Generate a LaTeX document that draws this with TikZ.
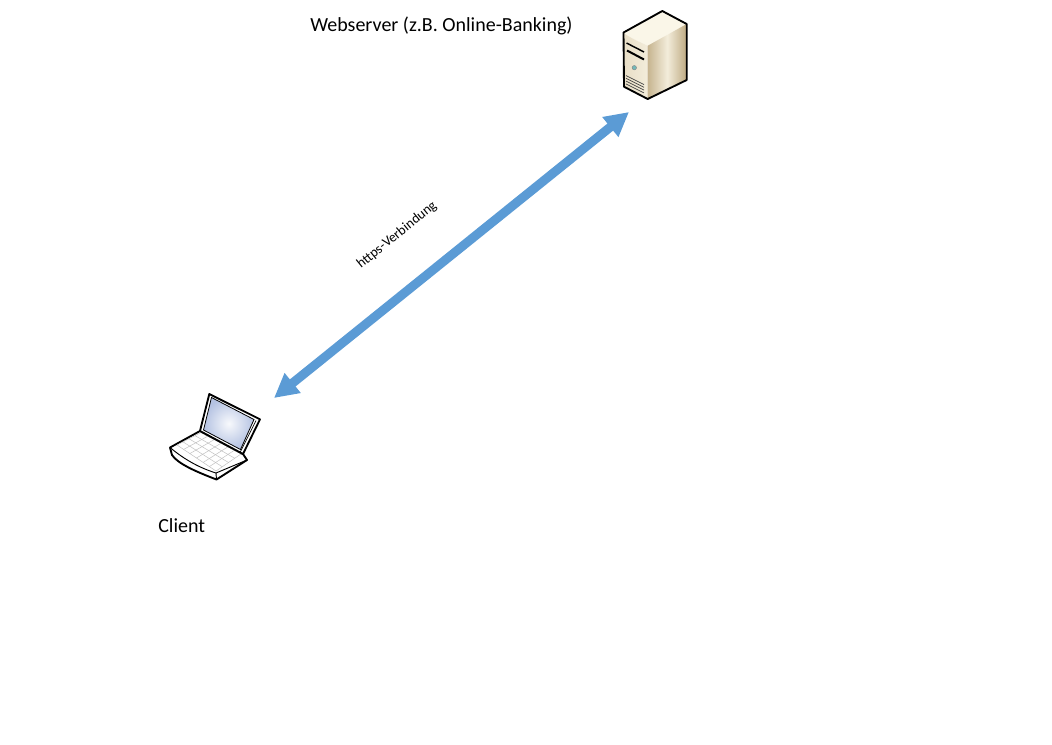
\documentclass[tikz,border=0pt]{standalone}
\usepackage{fontspec}
\setmainfont{Carlito}
\usepackage{xcolor}
\usepackage{tikz}
\usetikzlibrary{calc,arrows.meta}

\definecolor{linkblue}{RGB}{91,155,213}
\definecolor{caselight}{RGB}{250,246,232}
\definecolor{casemid}{RGB}{232,222,198}
\definecolor{casedark}{RGB}{190,170,130}
\definecolor{screenblue}{RGB}{180,194,226}

\tikzset{
    outline/.style={draw=black, line width=1.4pt, line join=round},
    label/.style={font=\fontsize{15pt}{18pt}\selectfont, anchor=west, inner sep=0pt},
    keyline/.style={draw=black!25, line width=.35pt},
    link/.style={draw=linkblue, line width=6.8pt, {Triangle[length=18pt,width=18pt]}-{Triangle[length=18pt,width=18pt]}}
}

\begin{document}
\begin{tikzpicture}[x=.75pt, y=-.75pt]
    \useasboundingbox (0,0) rectangle (1052,744);

    % server
    \coordinate (stl) at (623.5,32.5);
    \coordinate (stf) at (647.7,45.7);
    \coordinate (stb) at (662.3,11);
    \coordinate (str) at (686.7,24);
    \coordinate (sbl) at (624,86.7);
    \coordinate (sbf) at (647.7,99);
    \coordinate (sbr) at (686.7,80);
    \fill[caselight] (stl) .. controls (628,37) and (640,42) .. (stf) -- (str) -- (stb) -- cycle;
    \shade[left color=casemid, right color=caselight!60!casemid] (stl) .. controls (628,37) and (640,42) .. (stf) -- (sbf) -- (sbl) -- cycle;
    \shade[left color=casedark!80!casemid, right color=casedark, middle color=caselight!60!casemid] (stf) -- (str) -- (sbr) -- (sbf) -- cycle;
    \draw[black, line width=1.1pt] (626.5,43) -- (644,52);
    \draw[black, line width=1.5pt] (627,50.5) -- (644,59.5);
    \foreach \v in {0,2.8,5.6,8.4}
        \draw[black!75, line width=.5pt] (626,{75.5+\v}) -- (644,{84.5+\v});
    \fill[teal!55, draw=black!50, line width=.3pt] (634.3,67.7) circle (2.2);
    \draw[outline] (stl) -- (stb) -- (str) -- (sbr) -- (sbf) -- (sbl) -- cycle;

    % laptop
    \coordinate (ltl) at (209.3,394);
    \coordinate (ltr) at (260,419.3);
    \coordinate (lbr) at (243,454);
    \coordinate (lbl) at (200,431);
    \coordinate (bl) at (170,447.5);
    \coordinate (bf) at (216.5,479.5);
    \coordinate (br) at (247,460);
    \coordinate (kl) at (177,445);
    \coordinate (kt) at (201,432.5);
    \coordinate (kr) at (241,454);
    \coordinate (kf) at (216,471);
    \draw[outline, fill=white] (bl) -- (lbl) -- (lbr) -- (br) -- (bf)
        .. controls (197,472) and (178,464) .. (172,455) -- cycle;
    \draw[black, line width=.7pt] (bl) .. controls (185,460) and (200,468) .. (216,473) -- (br);
    \draw[black, line width=.7pt] (216,473) -- (bf);
    \foreach \t in {0,.25,.5,.75,1}
        \draw[keyline] ($(kl)!\t!(kt)$) -- ($(kf)!\t!(kr)$);
    \foreach \t in {0,.17,.33,.5,.67,.83,1}
        \draw[keyline] ($(kl)!\t!(kf)$) -- ($(kt)!\t!(kr)$);
    \draw[outline, fill=white] (lbl) -- (ltl) -- (ltr) -- (lbr) -- cycle;
    \draw[black, line width=.5pt] (256,420.5) -- (240,452.5);
    \shade[inner color=white!90!screenblue, outer color=screenblue, draw=black, line width=.6pt]
        (203.5,430) -- (211.5,397.5) -- (254,419.5) -- (240.5,449.5) -- cycle;

    % texts
    \node[label] (serverlabel) at (310,26) {Webserver (z.B. Online-Banking)};
    \node[label] (clientlabel) at (158,526) {Client};
    \node[font=\fontsize{10.4pt}{12pt}\selectfont, rotate=39, inner sep=0pt] (linklabel) at (397,235) {https-Verbindung};

    % connection
    \coordinate (clientend) at (274,398);
    \coordinate (serverend) at (629,112);
    \draw[link] (clientend) -- (serverend);
\end{tikzpicture}
\end{document}
